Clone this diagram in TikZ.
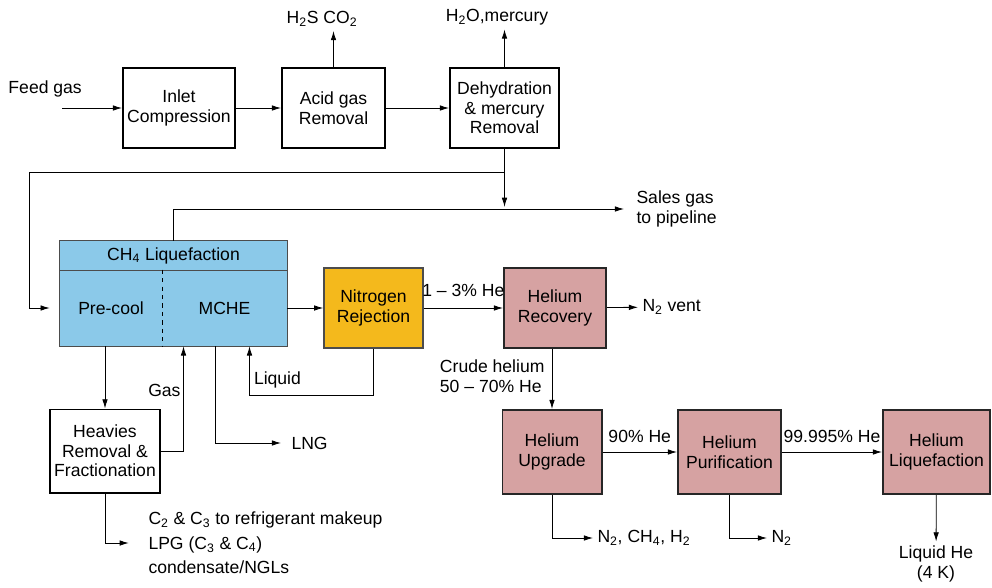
\documentclass[tikz,border=0pt]{standalone}
\usepackage{fontspec}
\setmainfont{Liberation Sans}
\usetikzlibrary{arrows.meta,calc}
\definecolor{lngblue}{RGB}{139,201,233}
\definecolor{nrorange}{RGB}{244,185,28}
\definecolor{herose}{RGB}{214,162,162}
\newcommand{\dn}[1]{\textsubscript{#1}}

\begin{document}
\begin{tikzpicture}[x=0.025cm,y=-0.025cm,
    font=\fontsize{12.5}{14}\selectfont,
    box/.style={draw=black,line width=1.4pt,align=center,inner sep=1pt,
      minimum height=2cm},
    nrbox/.style={box,fill=nrorange,draw=black!70,line width=1pt},
    hebox/.style={box,fill=herose,draw=black!85,minimum height=2.1cm},
    lngpart/.style={fill=lngblue,inner sep=0pt,align=center},
    arr/.style={-{Latex[length=2.3mm,width=1.4mm]},line width=0.6pt},
    lbl/.style={inner sep=3pt}]
  \useasboundingbox (0,0) rectangle (992,587);
  % gas treatment
  \node[box,minimum width=2.8cm] (inlet) at (179,108) {Inlet\\Compression};
  \node[box,minimum width=2.575cm] (acid) at (333.5,108) {Acid gas\\Removal};
  \node[box,minimum width=2.725cm] (dehyd) at (504.5,108)
    {Dehydration\\\& mercury\\Removal};
  \node[lbl,anchor=south west] (feed) at (4,102) {Feed gas};
  \coordinate (feedin) at (62,108);
  \node[lbl] (acidout) at (322,19) {H\dn{2}S CO\dn{2}};
  \node[lbl] (dehydout) at (497,17) {H\dn{2}O,mercury};
  \draw[arr] (feedin) -- (inlet);
  \draw[arr] (inlet) -- (acid);
  \draw[arr] (acid) -- (dehyd);
  \draw[arr] (acid.north) -- (acid.north |- acidout.south);
  \draw[arr] (dehyd.north) -- (dehyd.north |- dehydout.south);
  % CH4 liquefaction
  \node[lngpart,minimum width=5.675cm,minimum height=0.725cm] (ch4head)
    at (173.5,255.5) {CH\dn{4} Liquefaction};
  \node[lngpart,minimum width=2.55cm,minimum height=1.9cm] (precool)
    at (111,308) {Pre-cool};
  \node[lngpart,minimum width=3.125cm,minimum height=1.9cm] (mche)
    at (224.5,308) {MCHE};
  \draw[black!70,line width=0.8pt] (ch4head.north west) rectangle (mche.south east);
  \draw[black!70,line width=0.8pt] (ch4head.south west) -- (ch4head.south east);
  \draw[dashed,line width=0.6pt] (precool.north east) -- (precool.south east);
  \node[lbl,anchor=west,align=left] (sales) at (632,209) {Sales gas\\to pipeline};
  \coordinate (ret) at (29,172);
  \draw[arr,shorten >=1.5pt] (dehyd.south) -- (dehyd.south |- sales.west);
  \draw (dehyd.south |- ret) -- (ret);
  \draw[arr,shorten >=0.25cm] (ret) |- (precool.west);
  \draw[arr,shorten >=0.2cm] (ch4head.north) |- (sales.west);
  % nitrogen rejection and helium
  \node[nrbox,minimum width=2.475cm] (nrej) at (373.5,308) {Nitrogen\\Rejection};
  \node[hebox,minimum width=2.55cm,minimum height=2cm] (hrec) at (555,308)
    {Helium\\Recovery};
  \node[hebox,minimum width=2.475cm] (hup) at (552,452) {Helium\\Upgrade};
  \node[hebox,minimum width=2.575cm] (hpur) at (729.5,452) {Helium\\Purification};
  \node[hebox,minimum width=2.675cm] (hliq) at (936.5,452) {Helium\\Liquefaction};
  \draw[arr] (mche) -- (nrej);
  \draw[arr] (nrej) -- node[lbl,above=5pt] (lowhe) {1 -- 3\% He} (hrec);
  \node[lbl,anchor=west] (vent) at (638,307) {N\dn{2} vent};
  \draw[arr] (hrec) -- (vent);
  \node[lbl,anchor=east,align=left] (crude) at (549,376)
    {Crude helium\\50 -- 70\% He};
  \draw[arr] (hrec.south -| hup.north) -- (hup.north);
  \draw[arr] (hup) -- node[lbl,above=3pt] (midhe) {90\% He} (hpur);
  \draw[arr] (hpur) -- node[lbl,above=3pt] (purhe) {99.995\% He} (hliq);
  \node[lbl,anchor=west] (upout) at (593,538) {N\dn{2}, CH\dn{4}, H\dn{2}};
  \node[lbl,anchor=west] (purout) at (767,538) {N\dn{2}};
  \node[lbl,align=center] (liqhe) at (936,564) {Liquid He\\(4 K)};
  \draw[arr] (hup.south) |- (upout.west);
  \draw[arr] (hpur.south) |- (purout.west);
  \draw[arr] (hliq) -- (liqhe);
  % liquid return, LNG, heavies
  \coordinate (liqin) at ($(mche.south)+(25,0)$);
  \coordinate (lngout) at ($(mche.south)+(-9,0)$);
  \coordinate (gasin) at ($(mche.south)+(-41,0)$);
  \draw[arr] (nrej.south) -- ++(0,47) -| (liqin);
  \node[lbl,anchor=south west] (liqlbl) at ($(liqin)+(0,46)$) {Liquid};
  \node[lbl,anchor=west] (lng) at (287,443) {LNG};
  \draw[arr,shorten >=0.15cm] (lngout) |- (lng.west);
  \node[box,minimum width=2.75cm,minimum height=2.075cm] (heavy) at (105,451)
    {Heavies\\Removal \&\\Fractionation};
  \draw[arr] (precool.south -| heavy.north) -- (heavy.north);
  \draw[arr] (heavy.east) -| (gasin);
  \node[lbl,anchor=east] (gaslbl) at (185,390) {Gas};
  \node[lbl,anchor=west,align=left,
    font=\fontsize{12.5}{17.5}\selectfont] (ngl) at (144,543)
    {C\dn{2} \& C\dn{3} to refrigerant makeup\\LPG (C\dn{3} \& C\dn{4})\\condensate/NGLs};
  \draw[arr,shorten >=0.38cm] (heavy.south) |- (ngl.west);
\end{tikzpicture}
\end{document}
